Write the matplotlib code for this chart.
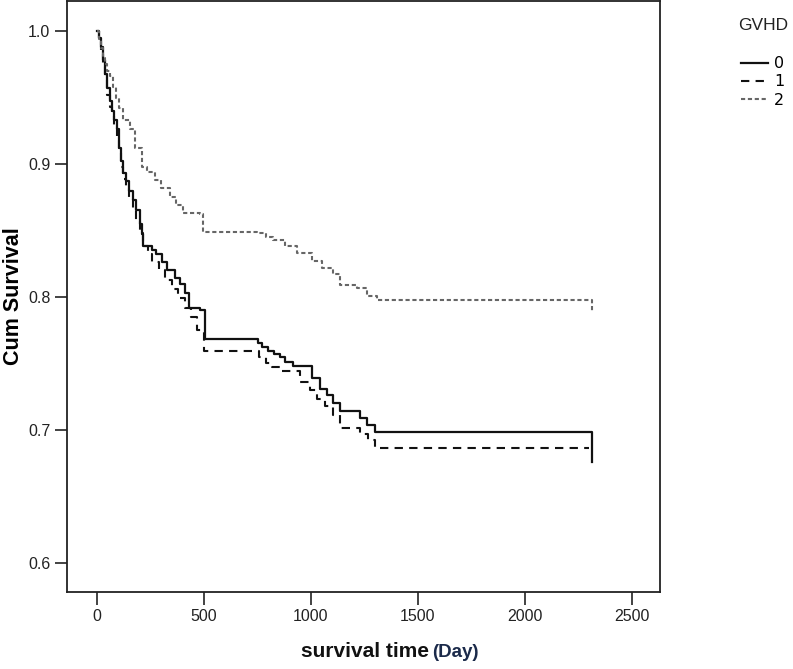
import matplotlib
matplotlib.use("Agg")
import matplotlib.pyplot as plt

# ---- data (Kaplan-Meier steps) ----
groups = ["0", "1", "2"]

t0 = [0, 10, 20, 30, 40, 50, 60, 70, 80, 93, 105, 115, 124, 135, 150, 171, 185, 202, 210, 218,
      257, 275, 304, 330, 366, 390, 413, 430, 480, 505, 753, 770, 800, 830, 856, 880, 918, 1004,
      1043, 1074, 1105, 1136, 1230, 1261, 1300, 2315, 2315]
s0 = [1.0, 0.995, 0.988, 0.978, 0.968, 0.957, 0.947, 0.940, 0.933, 0.926, 0.912, 0.902, 0.893, 0.887,
      0.880, 0.873, 0.865, 0.855, 0.847, 0.838, 0.835, 0.832, 0.826, 0.820, 0.814, 0.810, 0.803, 0.792,
      0.790, 0.768, 0.765, 0.762, 0.759, 0.757, 0.755, 0.751, 0.748, 0.739, 0.731, 0.726, 0.720, 0.714,
      0.709, 0.704, 0.698, 0.698, 0.676]

t1 = [0, 10, 20, 30, 40, 50, 60, 70, 80, 93, 105, 115, 124, 135, 150, 171, 185, 202, 218, 240,
      260, 290, 320, 350, 380, 410, 440, 470, 500, 760, 790, 820, 856, 949, 996, 1027, 1066, 1105,
      1136, 1230, 1269, 1300, 2300]
s1 = [1.0, 0.993, 0.985, 0.975, 0.963, 0.952, 0.943, 0.936, 0.928, 0.920, 0.908, 0.898, 0.889, 0.882,
      0.875, 0.866, 0.858, 0.848, 0.838, 0.832, 0.826, 0.820, 0.813, 0.806, 0.799, 0.792, 0.785, 0.775,
      0.759, 0.755, 0.750, 0.747, 0.744, 0.736, 0.730, 0.723, 0.718, 0.711, 0.701, 0.697, 0.692, 0.686,
      0.686]

t2 = [0, 10, 20, 30, 40, 50, 62, 75, 90, 105, 124, 156, 180, 210, 233, 270, 300, 342, 370, 405,
      482, 498, 747, 790, 825, 880, 934, 1004, 1050, 1105, 1136, 1214, 1261, 1308, 2315, 2315]
s2 = [1.0, 0.994, 0.987, 0.980, 0.975, 0.970, 0.966, 0.958, 0.950, 0.942, 0.933, 0.926, 0.912, 0.898,
      0.894, 0.888, 0.882, 0.875, 0.869, 0.863, 0.862, 0.849, 0.848, 0.845, 0.843, 0.838, 0.833, 0.827,
      0.822, 0.817, 0.809, 0.807, 0.801, 0.798, 0.798, 0.789]

xticks = [0, 500, 1000, 1500, 2000, 2500]
yticks = [0.6, 0.7, 0.8, 0.9, 1.0]

# ---- figure ----
fig = plt.figure(figsize=(7.93, 6.69), dpi=100)
ax = fig.add_axes([67 / 793, 77 / 669, (660 - 67) / 793, (592 - 1) / 669])

ax.plot(t0, s0, drawstyle="steps-post", color="#111111", lw=1.6, ls="-", label=groups[0])
ax.plot(t1, s1, drawstyle="steps-post", color="#111111", lw=1.5, ls=(0, (4, 3)), label=groups[1])
ax.plot(t2, s2, drawstyle="steps-post", color="#666666", lw=1.5, ls=(0, (2, 1.3)), label=groups[2])

ax.set_xlim(-139, 2631)
ax.set_ylim(0.578, 1.0226)
ax.set_xticks(xticks)
ax.set_xticklabels([str(v) for v in xticks])
ax.set_yticks(yticks)
ax.set_yticklabels([f"{v:.1f}" for v in yticks])

for sp in ax.spines.values():
    sp.set_linewidth(1.3)
    sp.set_color("#222222")
ax.tick_params(direction="out", length=9, width=1.2, labelsize=11.5, colors="#222222", pad=3)
for lab in ax.get_xticklabels() + ax.get_yticklabels():
    lab.set_fontfamily("Liberation Sans")

ax.set_ylabel("Cum Survival", fontsize=15.5, fontweight="bold", family="Liberation Sans", labelpad=3)

# x label: bold part + "(Day)"
fig.text(0.541, 0.012, "survival time", ha="right", va="bottom", fontsize=15,
         fontweight="bold", family="Liberation Sans", color="#111111")
fig.text(0.545, 0.012, "(Day)", ha="left", va="bottom", fontsize=13.5,
         fontweight="bold", family="Liberation Sans", color="#1b2a4a")

# legend
fig.text(763 / 793, 1 - 25 / 669, "GVHD", ha="center", va="center", fontsize=12.5,
         family="Liberation Sans", color="#222222")
leg = ax.legend(loc="upper left", bbox_to_anchor=(730 / 793, 1 - 45 / 669),
                bbox_transform=fig.transFigure, frameon=False,
                fontsize=11.5, handlelength=1.7, handletextpad=0.35,
                labelspacing=0.2, borderpad=0.2)

fig.savefig("out.png", dpi=100, facecolor="white")
